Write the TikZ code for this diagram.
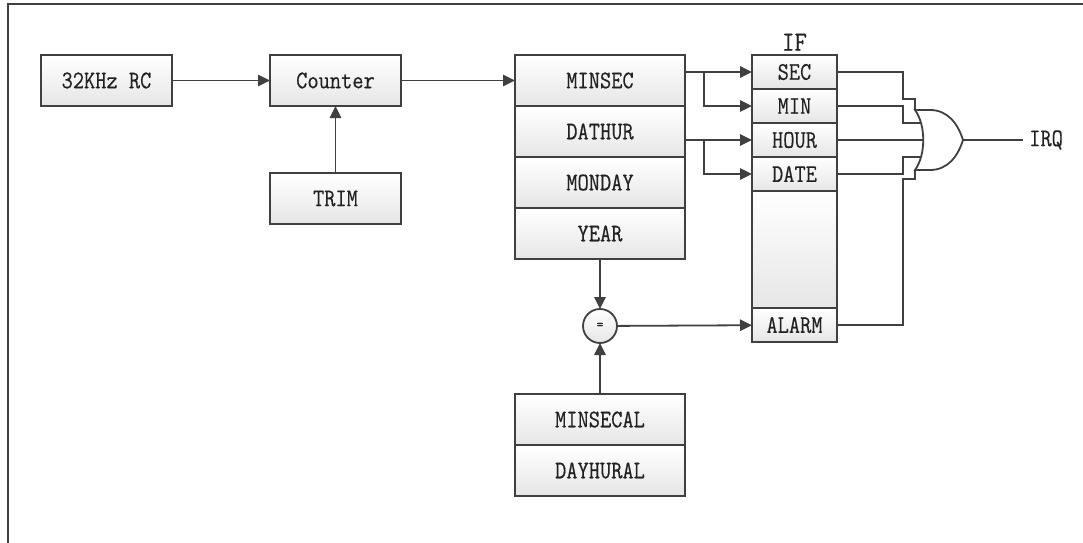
\documentclass[tikz,border=0pt]{standalone}
\usepackage{fontspec}
\usepackage{tikz}
\usetikzlibrary{arrows.meta,positioning}
\newfontfamily\regfont{Latin Modern Mono}[FakeStretch=0.86,FakeBold=0.4]
\definecolor{rline}{HTML}{404040}
\definecolor{rtext}{HTML}{222222}
\definecolor{rfill}{HTML}{E6E6E6}

\begin{document}
\begin{tikzpicture}[x=0.75pt,y=-0.75pt,
  font=\fontsize{19}{22}\regfont,text=rtext,
  box/.style={draw=rline,line width=1.35pt,top color=white,bottom color=rfill,
    minimum width=98.25pt,minimum height=38.25pt,inner sep=0pt,outer sep=0pt},
  reg/.style={box,minimum width=127.5pt},
  flag/.style={box,minimum width=63.75pt,minimum height=25.5pt},
  cmp/.style={draw=rline,line width=1.35pt,circle,top color=white,bottom color=rfill,
    minimum size=25.5pt,inner sep=0pt,outer sep=0pt,font=\fontsize{11}{13}\regfont},
  wire/.style={rline,line width=1.35pt},
  arrow/.style={wire,-{Triangle[length=9pt,width=8.5pt]}}]
\useasboundingbox (0,0) rectangle (1083,543);
\draw[wire] (1083,4) -| (8,543);
\node[box] (rc) at (106.5,80.5) {32KHz RC};
\node[box,right=73.5pt of rc] (cnt) {Counter};
\node[box,below=50.25pt of cnt] (trim) {TRIM};
\node[reg,right=85.5pt of cnt] (minsec) {MINSEC};
\node[reg,below=0pt of minsec] (dathur) {DATHUR};
\node[reg,below=0pt of dathur] (monday) {MONDAY};
\node[reg,below=0pt of monday] (year) {YEAR};
\node[cmp,below=37.5pt of year] (eq) {=};
\node[reg,below=38.25pt of eq] (minsecal) {MINSECAL};
\node[reg,below=0pt of minsecal] (dayhural) {DAYHURAL};
\node[flag] (sec) at (794.5,72) {SEC};
\node[flag,below=0pt of sec] (min) {MIN};
\node[flag,below=0pt of min] (hour) {HOUR};
\node[flag,below=0pt of hour] (date) {DATE};
\node[flag,below=0pt of date,minimum height=87.75pt] (spare) {};
\node[flag,below=0pt of spare] (alarm) {ALARM};
\node[above=2pt of sec,inner sep=1pt,font=\fontsize{21}{24}\regfont] (if) {IF};
\node[anchor=west,inner sep=4.5pt] (irq) at (1023,140) {IRQ};
\coordinate (gt) at (915,110);
\coordinate (gb) at (915,170);
\coordinate (tip) at (963,140);
\coordinate (g2) at (921,123);
\coordinate (g3) at (923,140);
\coordinate (g4) at (921,157);
\draw[wire] (gt) .. controls (926,125) and (926,155) .. (gb) -- (930,170)
  .. controls (948,170) and (958,156) .. (tip)
  .. controls (958,124) and (948,110) .. (930,110) -- cycle;
\draw[arrow] (rc) -- (cnt);
\draw[arrow] (trim) -- (cnt);
\draw[arrow] (cnt) -- (minsec);
\draw[arrow] (minsec.east |- sec) -- (sec);
\draw[arrow] ([xshift=14.25pt]minsec.east |- sec) |- (min);
\draw[arrow] (dathur.east |- hour) -- (hour);
\draw[arrow] ([xshift=14.25pt]dathur.east |- hour) |- (date);
\draw[arrow] (year) -- (eq);
\draw[arrow] (minsecal) -- (eq);
\draw[arrow] (eq) -- (alarm);
\draw[wire] (sec.east) -| (903,99) -| (gt);
\draw[wire] (min.east) -| (903,123) -- (g2);
\draw[wire] (hour.east) -- (g3);
\draw[wire] (date.east) -| (903,157) -- (g4);
\draw[wire] (alarm.east) -| (903,179) -| (gb);
\draw[wire] (tip) -- (irq);
\end{tikzpicture}
\end{document}
